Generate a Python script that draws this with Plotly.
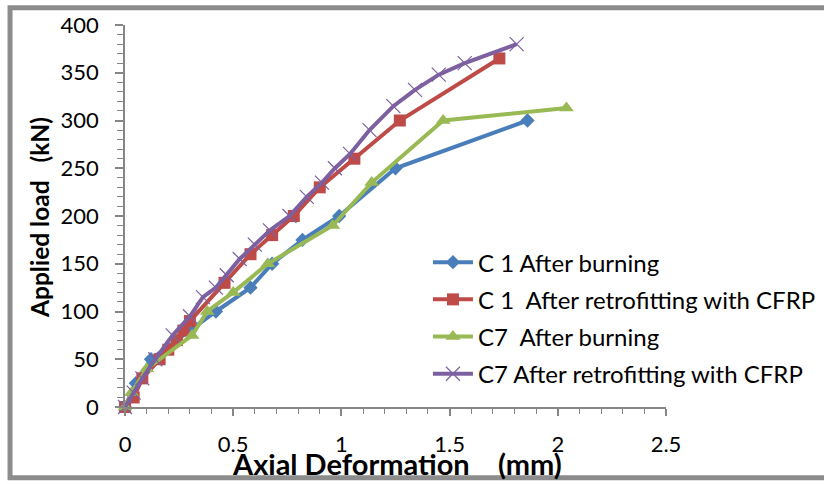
import plotly.graph_objects as go

# Data
c1_burn_x = [0, 0.05, 0.12, 0.30, 0.42, 0.58, 0.68, 0.82, 0.99, 1.25, 1.86]
c1_burn_y = [0, 25, 50, 80, 100, 125, 150, 175, 200, 250, 300]

c1_retro_x = [0, 0.04, 0.08, 0.16, 0.20, 0.24, 0.27, 0.30, 0.46, 0.58, 0.68, 0.78, 0.90, 1.06, 1.27, 1.73]
c1_retro_y = [0, 10, 30, 50, 60, 70, 80, 90, 130, 160, 180, 200, 230, 260, 300, 365]

c7_burn_x = [0, 0.03, 0.10, 0.31, 0.38, 0.50, 0.66, 0.96, 1.14, 1.47, 2.04]
c7_burn_y = [0, 15, 40, 75, 100, 120, 150, 190, 235, 300, 313]

c7_retro_x = [0, 0.04, 0.08, 0.14, 0.22, 0.30, 0.36, 0.42, 0.47, 0.53, 0.60, 0.67, 0.76, 0.84, 0.91, 0.97, 1.04, 1.13, 1.24, 1.34, 1.45, 1.57, 1.81]
c7_retro_y = [0, 15, 30, 50, 75, 95, 115, 125, 138, 155, 170, 185, 200, 220, 235, 250, 265, 290, 315, 332, 348, 360, 380]

names = ["C 1 After burning",
         "C 1\u00a0 After retrofitting with CFRP",
         "C7\u00a0 After burning",
         "C7 After retrofitting with CFRP"]
x_title = "Axial Deformation\u00a0\u00a0\u00a0 (mm)"
y_title = "Applied load\u00a0\u00a0 (kN)"

FONT = "Lato"
AX = "#868686"

fig = go.Figure()
fig.add_trace(go.Scatter(x=c1_burn_x, y=c1_burn_y, mode="lines+markers", name=names[0],
                         legendgroup="a", cliponaxis=False,
                         line=dict(color="#4A7EBB", width=4),
                         marker=dict(symbol="diamond", size=11, color="#4A7EBB")))
fig.add_trace(go.Scatter(x=c1_retro_x, y=c1_retro_y, mode="lines+markers", name=names[1],
                         legendgroup="b", cliponaxis=False,
                         line=dict(color="#BE4B48", width=4),
                         marker=dict(symbol="square", size=12, color="#BE4B48")))
fig.add_trace(go.Scatter(x=c7_burn_x, y=c7_burn_y, mode="lines+markers", name=names[2],
                         legendgroup="c", cliponaxis=False,
                         line=dict(color="#98B954", width=4),
                         marker=dict(symbol="triangle-up", size=13, color="#98B954")))
fig.add_trace(go.Scatter(x=c7_retro_x, y=c7_retro_y, mode="lines+markers", name=names[3],
                         legendgroup="d", cliponaxis=False,
                         line=dict(color="#7D60A0", width=4),
                         marker=dict(symbol="x-thin-open", size=14, color="#7D60A0",
                                     line=dict(width=1.2, color="#7D60A0"))))

fig.update_layout(
    width=824, height=484,
    margin=dict(l=125, r=158, t=25, b=77, autoexpand=False),
    paper_bgcolor="white", plot_bgcolor="white",
    font=dict(family=FONT, size=18, color="black"),
    showlegend=True,
    legend=dict(x=0.56, y=0.437, xanchor="left", yanchor="top",
                font=dict(family=FONT, size=24, color="black"),
                bgcolor="rgba(0,0,0,0)", tracegroupgap=3, itemwidth=40),
    shapes=[dict(type="rect", xref="paper", yref="paper",
                 x0=-0.2125, x1=1.35, y0=-0.185, y1=1.045,
                 line=dict(color="#8C8C8C", width=5), fillcolor="rgba(0,0,0,0)", layer="below")],
    annotations=[
        dict(text="<b>" + x_title + "</b>", xref="paper", yref="paper", x=0.503, y=-0.148,
             xanchor="center", yanchor="middle", showarrow=False,
             font=dict(family=FONT, size=29, color="black")),
        dict(text="<b>" + y_title + "</b>", xref="paper", yref="paper", x=-0.157, y=0.495,
             xanchor="center", yanchor="middle", showarrow=False, textangle=-90,
             font=dict(family=FONT, size=24.5, color="black")),
    ],
)

fig.update_xaxes(range=[0, 2.5], dtick=0.5, tick0=0, showgrid=False, zeroline=False,
                 showline=True, linecolor=AX, linewidth=1.5,
                 ticks="outside", ticklen=7, tickcolor=AX, tickwidth=1.5,
                 minor=dict(dtick=0.1, ticks="outside", ticklen=5, tickcolor=AX, tickwidth=1),
                 ticklabelstandoff=10,
                 tickfont=dict(family=FONT, size=22))
fig.update_yaxes(range=[0, 400], dtick=50, tick0=0, showgrid=False, zeroline=False,
                 showline=True, linecolor=AX, linewidth=1.5,
                 ticks="outside", ticklen=8, tickcolor=AX, tickwidth=1.5,
                 minor=dict(dtick=10, ticks="outside", ticklen=6, tickcolor=AX, tickwidth=1),
                 ticklabelstandoff=12,
                 tickfont=dict(family=FONT, size=22))

fig.write_html("out.html")
